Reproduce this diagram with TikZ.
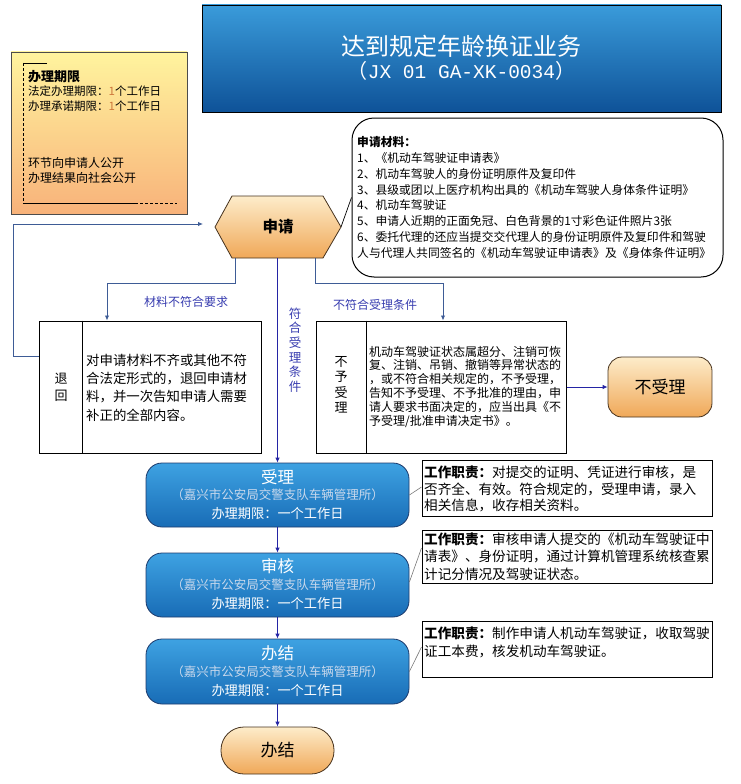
\documentclass[tikz,border=0pt]{standalone}
\usepackage{fontspec}
\setmainfont{Noto Sans CJK SC}
\newfontfamily\monofam{Liberation Mono}
\usetikzlibrary{arrows.meta}
\definecolor{titletop}{RGB}{58,155,218}
\definecolor{titlebot}{RGB}{14,82,152}
\definecolor{bluetop}{RGB}{62,162,226}
\definecolor{bluebot}{RGB}{24,108,182}
\definecolor{blueedge}{RGB}{28,58,108}
\definecolor{orgtop}{RGB}{253,236,202}
\definecolor{orgbot}{RGB}{240,168,88}
\definecolor{orgedge}{RGB}{70,50,30}
\definecolor{infotop}{RGB}{255,244,158}
\definecolor{infobot}{RGB}{248,178,122}
\definecolor{branchcol}{RGB}{62,92,150}
\definecolor{flowcol}{RGB}{36,36,165}
\definecolor{labelcol}{RGB}{55,60,175}
\definecolor{subcol}{RGB}{200,216,236}
\definecolor{onecol}{RGB}{205,120,60}
\definecolor{thin}{RGB}{120,120,120}
\newcommand{\fs}[2]{\fontsize{#1}{#2}\selectfont}
\begin{document}
\begin{tikzpicture}[x=1pt,y=-1pt,
  flow/.style={draw=flowcol, line width=0.9pt, -{Latex[length=5pt,width=4.5pt]}},
  branch/.style={draw=branchcol, line width=0.9pt, -{Latex[length=5pt,width=4.5pt]}},
  link/.style={draw=thin, line width=0.6pt},
  boxblk/.style={draw=black, line width=1pt, fill=white, inner sep=0pt},
  bluebox/.style={draw=blueedge, line width=0.8pt, rounded corners=16pt, top color=bluetop, bottom color=bluebot, minimum width=263pt, minimum height=64pt, inner sep=0pt},
  orangebox/.style={draw=orgedge, line width=0.8pt, top color=orgtop, bottom color=orgbot, inner sep=0pt},
  lbl/.style={text=labelcol, font=\fs{12}{14}, inner sep=0pt},
  txt/.style={inner sep=0pt, align=left, text=black, anchor=west},
  bt/.style={inner sep=0pt, text=white, font=\fs{16.5}{18}},
  bs/.style={inner sep=0pt, text=subcol, font=\fs{12.5}{14}},
  bl/.style={inner sep=0pt, text=white, font=\fs{13.2}{15}},
]
\useasboundingbox (0,0) rectangle (740,784);

% title
\node[draw=black, line width=0.8pt, top color=titletop, bottom color=titlebot, minimum width=519pt, minimum height=107pt, inner sep=0pt] (title) at (461.5,58.5) {};
\node[inner sep=0pt, text=white, font=\fs{24}{26}] (titleA) at (461.5,46) {达到规定年龄换证业务};
\node[inner sep=0pt, text=white, font=\fs{20}{22}] (titleB) at (461.5,71) {（{\monofam\fs{19.5}{22}JX 01 GA-XK-0034}）};

% info box
\node[draw=black!70, line width=0.8pt, top color=infotop, bottom color=infobot, minimum width=176pt, minimum height=162pt, inner sep=0pt] (info) at (99,133) {};
\draw[line width=0.7pt] (47,63) -- (23,63);
\draw[line width=0.7pt, dash pattern=on 3pt off 2pt] (23,63) -- (23,203);
\draw[line width=0.7pt] (23,203) -- (135,203);
\draw[line width=0.7pt, dash pattern=on 3pt off 2pt] (135,203) -- (177,203);
\node[txt, font=\fs{13}{15}\bfseries] (infoA) at (28,77) {办理期限};
\node[txt, font=\fs{11.5}{14}] (infoB) at (28,91) {法定办理期限：{\color{onecol}1}个工作日};
\node[txt, font=\fs{11.5}{14}] (infoC) at (28,106) {办理承诺期限：{\color{onecol}1}个工作日};
\node[txt, font=\fs{12}{14}] (infoD) at (28,163) {环节向申请人公开};
\node[txt, font=\fs{12}{14}] (infoE) at (28,178) {办理结果向社会公开};

% hexagon
\path[draw=orgedge, line width=0.8pt, top color=orgtop, bottom color=orgbot]
  (215,227) -- (232,196) -- (323,196) -- (341,227) -- (323,258) -- (232,258) -- cycle;
\node[inner sep=0pt, font=\fs{15.5}{18}\bfseries] (apply) at (278,227) {申请};
\coordinate (hexR) at (341,227);
\coordinate (hexB1) at (235,258);
\coordinate (hexB0) at (277.5,258);
\coordinate (hexB2) at (315,258);

% materials
\node[draw=black, line width=1pt, fill=white, rounded corners=22pt, minimum width=371pt, minimum height=159pt, inner sep=0pt] (mat) at (537.5,197.5) {};
\node[txt, font=\fs{11.8}{15.86}] (matT) at (357,197.5) {\textbf{申请材料：}\\
1、《机动车驾驶证申请表》\\
2、机动车驾驶人的身份证明原件及复印件\\
3、县级或团以上医疗机构出具的《机动车驾驶人身体条件证明》\\
4、机动车驾驶证\\
5、申请人近期的正面免冠、白色背景的1寸彩色证件照片3张\\
6、委托代理的还应当提交交代理人的身份证明原件及复印件和驾驶\\
人与代理人共同签名的《机动车驾驶证申请表》及《身体条件证明》};
\draw[line width=0.7pt] (hexR) -- (mat.west);

% return box
\node[boxblk, minimum width=222pt, minimum height=132pt] (ret) at (150,387) {};
\draw[line width=1pt] ([xshift=44pt]ret.north west) -- ([xshift=44pt]ret.south west);
\node[inner sep=0pt, align=center, font=\fs{13}{17}] (retL) at (61,387.5) {退\\回};
\node[txt, font=\fs{13.4}{18.3}] (retT) at (86,387.5) {对申请材料不齐或其他不符\\合法定形式的，退回申请材\\料，并一次告知申请人需要\\补正的全部内容。};

% not accepted box
\node[boxblk, minimum width=250pt, minimum height=132pt] (nr) at (441,387) {};
\draw[line width=1pt] ([xshift=51pt]nr.north west) -- ([xshift=51pt]nr.south west);
\node[inner sep=0pt, align=center, font=\fs{13}{15.5}] (nrL) at (341,385) {不\\予\\受\\理};
\node[txt, font=\fs{12}{13.8}] (nrT) at (369,386.5) {机动车驾驶证状态属超分、注销可恢\\复、注销、吊销、撤销等异常状态的\\，或不符合相关规定的，不予受理，\\告知不予受理、不予批准的理由，申\\请人要求书面决定的，应当出具《不\\予受理/批准申请决定书》。};

% reject terminal
\node[orangebox, rounded corners=14pt, minimum width=104pt, minimum height=60pt, font=\fs{17}{20}] (reject) at (660,387) {不受理};

% branches
\coordinate (fbA) at (13,356);
\coordinate (fbB) at (203,224);
\draw[branch] (ret.west |- fbA) -- (fbA) |- (fbB);
\coordinate (lb) at (107,283);
\draw[branch] (hexB1) |- (lb) -- (ret.north -| lb);
\coordinate (rb) at (443,283);
\draw[branch] (hexB2) |- (rb) -- (nr.north -| rb);
\node[lbl] (lblA) at (186,302) {材料不符合要求};
\node[lbl] (lblB) at (375,305) {不符合受理条件};
\node[inner sep=0pt, align=center, text=labelcol, font=\fs{12.5}{14.7}] (lblC) at (295,350) {符\\合\\受\\理\\条\\件};
\draw[flow] (nr.east) -- (reject.west);

% blue process boxes
\node[bluebox] (accept) at (277.5,495) {};
\node[bt] (acceptT) at (277.5,477) {受理};
\node[bs] (acceptS) at (277.5,495) {（嘉兴市公安局交警支队车辆管理所）};
\node[bl] (acceptL) at (277.5,513) {办理期限：一个工作日};

\node[bluebox] (review) at (277.5,585) {};
\node[bt] (reviewT) at (277.5,566) {审核};
\node[bs] (reviewS) at (277.5,585) {（嘉兴市公安局交警支队车辆管理所）};
\node[bl] (reviewL) at (277.5,603) {办理期限：一个工作日};

\node[bluebox, minimum height=65pt] (finish) at (277.5,671.5) {};
\node[bt] (finishT) at (277.5,653) {办结};
\node[bs] (finishS) at (277.5,671.5) {（嘉兴市公安局交警支队车辆管理所）};
\node[bl] (finishL) at (277.5,690) {办理期限：一个工作日};

\node[orangebox, rounded corners=23pt, minimum width=113pt, minimum height=47pt, font=\fs{17}{20}] (endn) at (277.5,750.5) {办结};

\draw[flow] (hexB0) -- (accept.north);
\draw[flow] (accept.south) -- (review.north);
\draw[flow] (review.south) -- (finish.north);
\draw[flow] (finish.south) -- (endn.north);

% duty boxes
\node[boxblk, minimum width=290pt, minimum height=56pt] (work1) at (567,488) {};
\node[txt, font=\fs{13.6}{16.8}] (work1T) at (424,489) {\textbf{工作职责：}对提交的证明、凭证进行审核，是\\否齐全、有效。符合规定的，受理申请，录入\\相关信息，收存相关资料。};
\node[boxblk, minimum width=290pt, minimum height=53pt] (work2) at (567,556.5) {};
\node[txt, font=\fs{13.6}{17.5}] (work2T) at (424,556.5) {\textbf{工作职责：}审核申请人提交的《机动车驾驶证中\\请表》、身份证明，通过计算机管理系统核查累\\计记分情况及驾驶证状态。};
\node[boxblk, minimum width=290pt, minimum height=56pt] (work3) at (567,649) {};
\node[txt, font=\fs{13.6}{18}] (work3T) at (424,642) {\textbf{工作职责：}制作申请人机动车驾驶证，收取驾驶\\证工本费，核发机动车驾驶证。};

\draw[link] (accept.east) -- ([yshift=1pt]work1.west);
\draw[link] ([yshift=3pt]review.east) -- ([yshift=4pt]work2.north west |- 0,552);
\draw[link] (finish.east) -- ([yshift=2pt]work3.west);
\end{tikzpicture}
\end{document}
